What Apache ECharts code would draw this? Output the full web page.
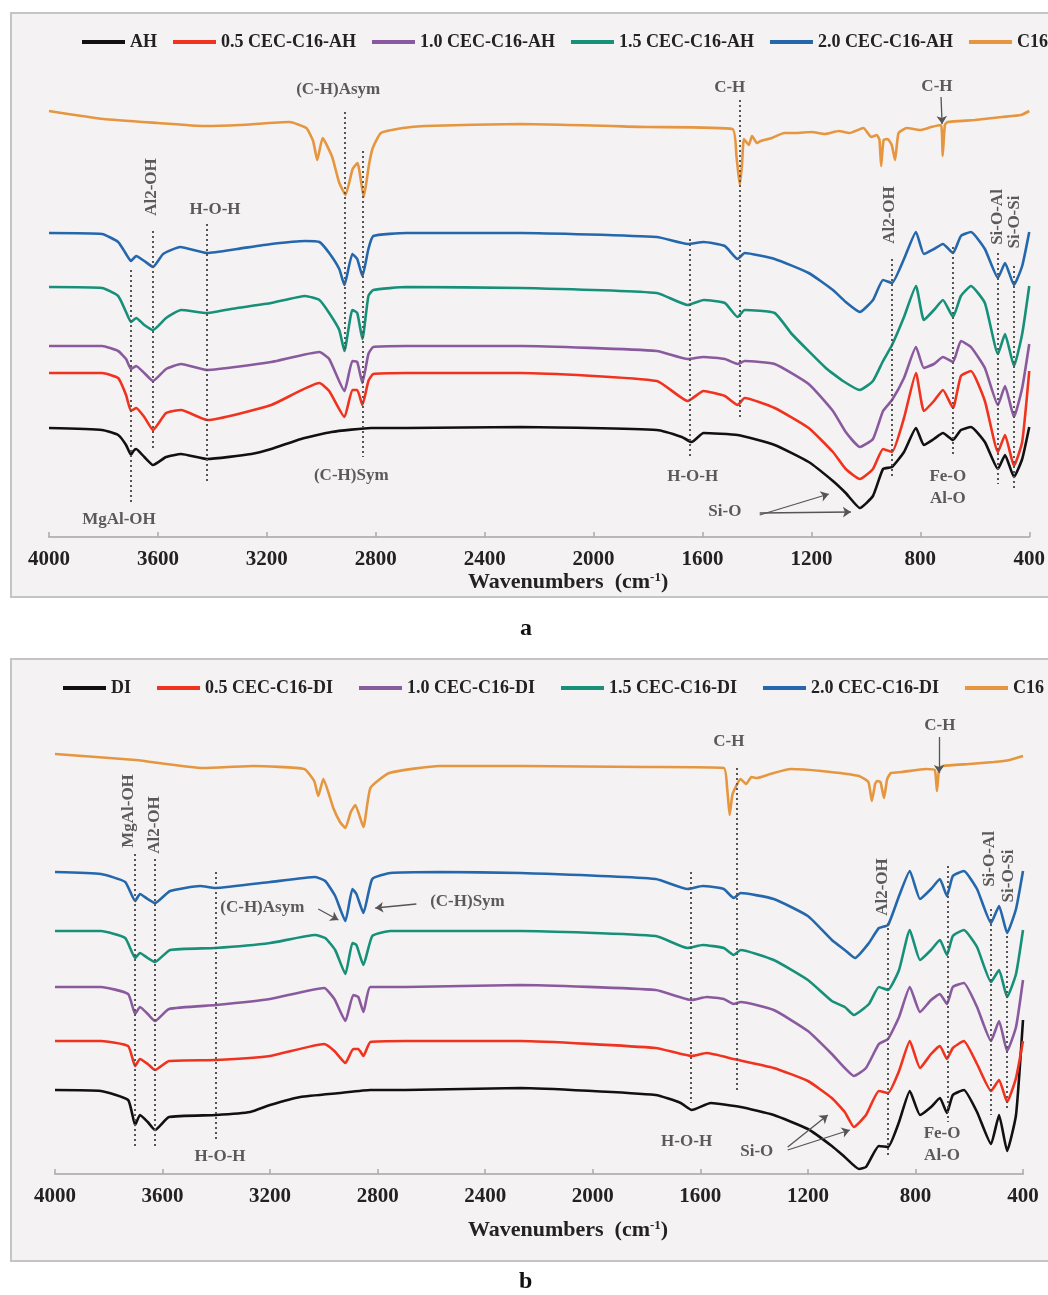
<!DOCTYPE html>
<html>
<head>
<meta charset="utf-8">
<title>FTIR spectra</title>
<script src="https://cdn.jsdelivr.net/npm/echarts@6/dist/echarts.min.js"></script>
<style>
  html, body { margin: 0; padding: 0; background: #fff; }
  #main { width: 1048px; height: 1295px; }
</style>
</head>
<body>
<div id="main"></div>
<script>
// series names
const namesA = ['AH', '0.5 CEC-C16-AH', '1.0 CEC-C16-AH', '1.5 CEC-C16-AH', '2.0 CEC-C16-AH', 'C16'];
const namesB = ['DI', '0.5 CEC-C16-DI', '1.0 CEC-C16-DI', '1.5 CEC-C16-DI', '2.0 CEC-C16-DI', 'C16'];
const xTicks = [4000, 3600, 3200, 2800, 2400, 2000, 1600, 1200, 800, 400];

// panel a spectra: [wavenumber, transmittance (a.u., stacked)]
const ahA = [[4000,109],[3805,107],[3746,102],[3717,92],[3699,82],[3690,86],[3680,88],[3650,80],[3618,72],[3570,80],[3515,83],[3419,78],[3257,83],[3184,88],[3074,98],[2963,105],[2816,109],[2687,109],[2265,110],[1768,107],[1676,100],[1640,95],[1596,104],[1471,102],[1335,92],[1210,75],[1121,56],[1074,44],[1022,29],[974,41],[937,68],[904,70],[860,85],[816,109],[787,92],[750,98],[717,104],[680,97],[651,107],[614,110],[563,95],[515,68],[489,82],[456,60],[426,78],[400,110]];
const cec05A = [[4000,164],[3805,164],[3746,159],[3717,142],[3699,126],[3680,129],[3650,120],[3618,107],[3570,124],[3515,127],[3419,117],[3184,132],[3007,154],[2971,146],[2915,120],[2886,147],[2868,147],[2849,132],[2827,156],[2809,163],[2687,164],[2265,164],[1768,156],[1654,136],[1596,146],[1518,141],[1471,132],[1445,139],[1335,129],[1210,109],[1121,85],[1074,68],[1022,58],[974,68],[937,88],[904,85],[860,119],[816,164],[787,126],[750,136],[717,147],[680,129],[651,161],[614,166],[563,136],[515,85],[489,102],[456,71],[426,95],[400,166]];
const cec10A = [[4000,191],[3805,191],[3746,186],[3717,178],[3699,168],[3680,171],[3650,164],[3618,156],[3570,168],[3515,173],[3419,167],[3184,175],[3007,185],[2971,178],[2915,146],[2886,176],[2868,175],[2849,154],[2827,183],[2809,190],[2687,191],[2265,191],[1768,186],[1654,178],[1596,180],[1518,178],[1471,173],[1445,176],[1335,173],[1210,153],[1121,126],[1074,105],[1022,90],[974,98],[937,126],[904,137],[860,159],[816,190],[787,169],[750,173],[717,180],[680,175],[651,196],[614,190],[563,169],[515,132],[489,151],[456,120],[426,149],[400,193]];
const cec15A = [[4000,250],[3805,249],[3746,241],[3717,225],[3699,215],[3680,219],[3650,212],[3618,207],[3570,219],[3515,227],[3419,224],[3309,229],[3184,234],[3059,241],[3007,237],[2971,224],[2934,207],[2915,186],[2886,227],[2868,224],[2849,198],[2827,241],[2809,247],[2687,250],[2265,249],[1768,244],[1654,232],[1596,237],[1518,234],[1471,220],[1445,227],[1335,224],[1272,203],[1147,169],[1084,156],[1022,147],[974,156],[937,176],[904,192],[860,220],[816,251],[787,217],[750,227],[717,237],[680,220],[651,241],[614,251],[563,234],[515,183],[489,203],[456,171],[426,203],[400,251]];
const cec20A = [[4000,304],[3805,303],[3746,295],[3717,283],[3699,276],[3680,281],[3650,276],[3618,270],[3581,283],[3518,290],[3419,284],[3309,288],[3184,293],[3059,296],[3007,295],[2971,284],[2934,268],[2915,252],[2886,283],[2868,278],[2849,261],[2827,288],[2809,301],[2687,304],[2265,304],[1768,300],[1654,293],[1596,295],[1518,291],[1471,278],[1445,284],[1335,278],[1210,264],[1121,247],[1074,235],[1022,225],[974,237],[937,257],[904,254],[860,278],[816,305],[787,283],[750,288],[717,293],[680,284],[651,301],[614,305],[563,288],[515,259],[489,274],[456,252],[426,271],[400,305]];
const c16A = [[4000,426],[3800,418],[3600,414],[3430,411],[3300,412],[3117,415],[3055,409],[3030,396],[3015,377],[2995,399],[2960,380],[2935,355],[2911,342],[2885,368],[2867,374],[2844,340],[2825,372],[2811,389],[2781,404],[2700,409],[2619,411],[2265,413],[1800,410],[1490,408],[1475,380],[1463,352],[1455,372],[1448,398],[1430,392],[1418,401],[1400,394],[1386,396],[1345,399],[1300,404],[1260,404],[1200,405],[1150,403],[1100,406],[1060,404],[1009,409],[980,400],[960,402],[950,397],[944,371],[935,397],[920,398],[905,392],[893,377],[880,404],[850,409],[800,407],[760,410],[724,412],[718,381],[710,412],[700,415],[600,417],[500,420],[430,422],[400,426]];

// panel b spectra
const diB = [[4000,84],[3829,83],[3728,74],[3702,49],[3684,59],[3655,52],[3628,44],[3576,57],[3401,59],[3274,62],[3200,69],[3088,77],[2939,81],[2827,84],[2697,84],[2269,86],[1766,79],[1673,71],[1632,64],[1561,71],[1450,67],[1327,59],[1200,45],[1111,28],[1063,17],[1010,5],[984,7],[936,28],[902,27],[861,52],[821,83],[783,59],[742,67],[709,76],[683,61],[661,79],[620,84],[571,62],[519,30],[489,59],[459,23],[426,59],[400,154]];
const cec05B = [[4000,133],[3829,133],[3728,128],[3702,108],[3684,115],[3655,110],[3628,104],[3576,113],[3401,114],[3200,118],[2999,130],[2961,123],[2920,111],[2891,125],[2872,125],[2853,118],[2827,132],[2697,133],[2269,133],[1766,126],[1632,118],[1576,121],[1476,115],[1327,106],[1200,93],[1111,76],[1063,62],[1029,47],[984,59],[936,83],[902,81],[861,103],[821,133],[783,106],[742,120],[709,128],[683,115],[661,126],[620,133],[571,110],[519,83],[489,94],[459,72],[426,96],[400,133]];
const cec10B = [[4000,187],[3829,187],[3728,180],[3702,160],[3684,167],[3655,160],[3628,153],[3576,165],[3401,169],[3200,175],[2999,186],[2961,175],[2920,153],[2891,179],[2872,177],[2853,162],[2827,187],[2697,187],[2269,189],[1766,184],[1632,174],[1576,177],[1513,175],[1476,170],[1450,172],[1327,164],[1200,143],[1111,120],[1063,106],[1029,98],[984,106],[936,130],[902,135],[861,157],[821,187],[783,162],[742,174],[709,180],[683,170],[661,187],[620,191],[571,167],[519,133],[489,153],[459,123],[426,147],[400,194]];
const cec15B = [[4000,243],[3829,243],[3739,236],[3702,216],[3684,221],[3655,216],[3628,212],[3572,224],[3404,226],[3200,231],[3032,239],[2995,236],[2958,224],[2920,200],[2894,231],[2879,229],[2853,209],[2820,238],[2753,243],[2269,243],[1766,238],[1647,226],[1591,229],[1513,226],[1476,219],[1450,224],[1327,214],[1200,194],[1111,173],[1063,167],[1029,159],[973,170],[936,187],[902,184],[861,204],[821,244],[783,214],[742,224],[709,234],[683,219],[661,238],[620,244],[571,227],[519,192],[489,204],[459,177],[426,200],[400,244]];
const cec20B = [[4000,302],[3829,300],[3739,292],[3702,273],[3684,280],[3655,275],[3628,271],[3572,283],[3460,288],[3404,286],[3200,292],[3032,297],[2995,293],[2958,278],[2920,253],[2894,285],[2879,280],[2853,261],[2820,295],[2753,301],[2570,302],[2269,301],[1766,295],[1647,285],[1591,288],[1513,285],[1476,276],[1450,281],[1327,275],[1200,258],[1111,234],[1063,224],[1025,216],[973,231],[936,246],[902,249],[861,278],[821,303],[783,275],[742,285],[709,295],[683,278],[661,298],[620,303],[571,285],[519,251],[489,268],[459,241],[426,265],[400,303]];
const c16B = [[4000,420],[3700,414],[3449,406],[3263,408],[3073,405],[3036,393],[3021,378],[3002,395],[2965,366],[2940,352],[2920,346],[2900,362],[2883,369],[2853,347],[2827,386],[2757,401],[2570,408],[2269,408],[1800,407],[1513,406],[1500,385],[1491,359],[1480,380],[1450,395],[1430,390],[1410,397],[1390,396],[1340,400],[1264,405],[1150,403],[1010,398],[975,392],[962,373],[950,390],[943,393],[930,392],[917,376],[905,395],[891,401],[850,402],[761,405],[728,404],[720,383],[712,405],[698,408],[600,410],[508,412],[450,414],[400,418]];

// band guides: [wavenumber, from, to]
const guidesA = [[3700,267,34],[3618,306,88],[3419,313,53],[2915,425,187],[2849,386,80],[1645,298,78],[1465,437,120],[905,278,61],[680,290,82],[515,284,53],[458,271,48]];
const guidesB = [[3702,320,27],[3628,315,27],[3401,302,35],[1465,406,84],[1636,302,71],[902,251,18],[679,308,52],[519,265,59],[459,238,66]];
// band labels: [text, wavenumber, value, rotation]
const labelsA = [['MgAl-OH',3743,17,0],['Al2-OH',3625,350,90],['H-O-H',3390,327,0],['(C-H)Asym',2938,447,0],['(C-H)Sym',2890,61,0],['H-O-H',1636,60,0],['C-H',1500,449,0],['C-H',739,450,0],['Al2-OH',912,322,90],['Fe-O',699,60,0],['Al-O',699,38,0],['Si-O-Al',518,320,90],['Si-O-Si',452,315,90],['Si-O',1518,25,0]];
const labelsB = [['MgAl-OH',3728,363,90],['Al2-OH',3628,349,90],['H-O-H',3386,17,0],['(C-H)Asym',3229,266,0],['(C-H)Sym',2466,272,0],['C-H',1494,432,0],['H-O-H',1651,32,0],['C-H',709,448,0],['Al2-OH',921,287,90],['Fe-O',701,40,0],['Al-O',701,18,0],['Si-O-Al',526,315,90],['Si-O-Si',452,298,90],['Si-O',1390,22,0]];
// arrows: [w1, v1, w2, v2]
const arrowsA = [[724,440,720,413],[1390,22,1136,43],[1390,24,1055,25]];
const arrowsB = [[3021,265,2946,254],[2656,270,2809,266],[712,437,712,401],[1275,27,1126,59],[1275,24,1044,44]];

const font = '"Liberation Serif", "Times New Roman", serif';
const colors = ['#111111', '#f0321e', '#8a5a9e', '#17907a', '#2467ad', '#e5963f'];

function spectrum(name, data, i, color) {
  return {
    type: 'line', name: name, data: data, xAxisIndex: i, yAxisIndex: i,
    symbol: 'none', smooth: 0.15, z: 3,
    lineStyle: { width: 2.6, color: color }, itemStyle: { color: color }
  };
}

function guides(i, list) {
  return {
    type: 'line', data: [], xAxisIndex: i, yAxisIndex: i, silent: true,
    markLine: {
      silent: true, symbol: ['none', 'none'], label: { show: false },
      lineStyle: { type: [2, 3], color: '#555', width: 2 },
      data: list.map(g => [{ coord: [g[0], g[1]] }, { coord: [g[0], g[2]] }])
    }
  };
}

function arrows(i, list) {
  return {
    type: 'line', data: [], xAxisIndex: i, yAxisIndex: i, silent: true,
    markLine: {
      silent: true, symbol: ['none', 'arrow'], symbolSize: 8, label: { show: false },
      lineStyle: { type: 'solid', color: '#555', width: 1.3 },
      data: list.map(a => [{ coord: [a[0], a[1]] }, { coord: [a[2], a[3]] }])
    }
  };
}

function labels(i, list) {
  return {
    type: 'scatter', xAxisIndex: i, yAxisIndex: i, symbolSize: 0, silent: true, z: 6,
    data: list.map(l => ({ name: l[0], value: [l[1], l[2]], label: { rotate: l[3] } })),
    label: {
      show: true, position: 'inside', formatter: '{b}',
      fontFamily: font, fontWeight: 'bold', fontSize: 17, color: '#333'
    }
  };
}

const setsA = [ahA, cec05A, cec10A, cec15A, cec20A, c16A];
const setsB = [diB, cec05B, cec10B, cec15B, cec20B, c16B];

const series = [];
setsA.forEach((d, k) => series.push(spectrum(namesA[k], d, 0, colors[k])));
setsB.forEach((d, k) => series.push(spectrum(namesB[k], d, 1, colors[k])));
series.push(guides(0, guidesA), guides(1, guidesB), arrows(0, arrowsA), arrows(1, arrowsB), labels(0, labelsA), labels(1, labelsB));

function xAxis(i, gap) {
  return {
    type: 'value', gridIndex: i, min: 400, max: 4000, interval: 400, inverse: true,
    axisLine: { lineStyle: { color: '#b8b8b8', width: 2 } },
    axisTick: { inside: true, length: 5, lineStyle: { color: '#aaa', width: 1.5 } },
    splitLine: { show: false },
    axisLabel: {
      margin: 12, fontFamily: font, fontWeight: 'bold', fontSize: 21, color: '#222',
      formatter: v => xTicks.indexOf(v) >= 0 ? String(v) : ''
    },
    name: 'Wavenumbers  (cm{sup|-1})', nameLocation: 'middle', nameGap: gap,
    nameTextStyle: {
      fontFamily: font, fontWeight: 'bold', fontSize: 22, color: '#222', padding: [0, 0, 0, 58],
      rich: { sup: { fontFamily: font, fontWeight: 'bold', fontSize: 13, color: '#222', padding: [0, 0, 10, 0] } }
    }
  };
}

function yAxis(i) {
  return { type: 'value', gridIndex: i, min: 0, max: 480, show: false };
}

function legend(names, left, top, gap) {
  return {
    data: names, left: left, top: top, width: 1400, orient: 'horizontal',
    icon: 'rect', itemWidth: 43, itemHeight: 4, itemGap: gap,
    selectedMode: false,
    textStyle: { fontFamily: font, fontWeight: 'bold', fontSize: 18, color: '#222' }
  };
}

const chart = echarts.init(document.getElementById('main'));
chart.setOption({
  animation: false,
  backgroundColor: '#ffffff',
  graphic: [
    { type: 'rect', z: -10, shape: { x: 11, y: 13, width: 1100, height: 584 }, style: { fill: '#f4f2f2', stroke: '#c4c4c4', lineWidth: 2 } },
    { type: 'rect', z: -10, shape: { x: 11, y: 659, width: 1100, height: 602 }, style: { fill: '#f4f2f2', stroke: '#c4c4c4', lineWidth: 2 } },
    { type: 'text', left: 520, top: 617, style: { text: 'a', fontFamily: font, fontWeight: 'bold', fontSize: 24, fill: '#111' } },
    { type: 'text', left: 519, top: 1270, style: { text: 'b', fontFamily: font, fontWeight: 'bold', fontSize: 24, fill: '#111' } }
  ],
  legend: [legend(namesA, 77, 28, 16), legend(namesB, 58, 674, 26)],
  grid: [
    { left: 49, width: 981, top: 57, height: 480 },
    { left: 55, width: 968, top: 694, height: 480 }
  ],
  xAxis: [xAxis(0, 34), xAxis(1, 45)],
  yAxis: [yAxis(0), yAxis(1)],
  series: series
});
</script>
</body>
</html>
